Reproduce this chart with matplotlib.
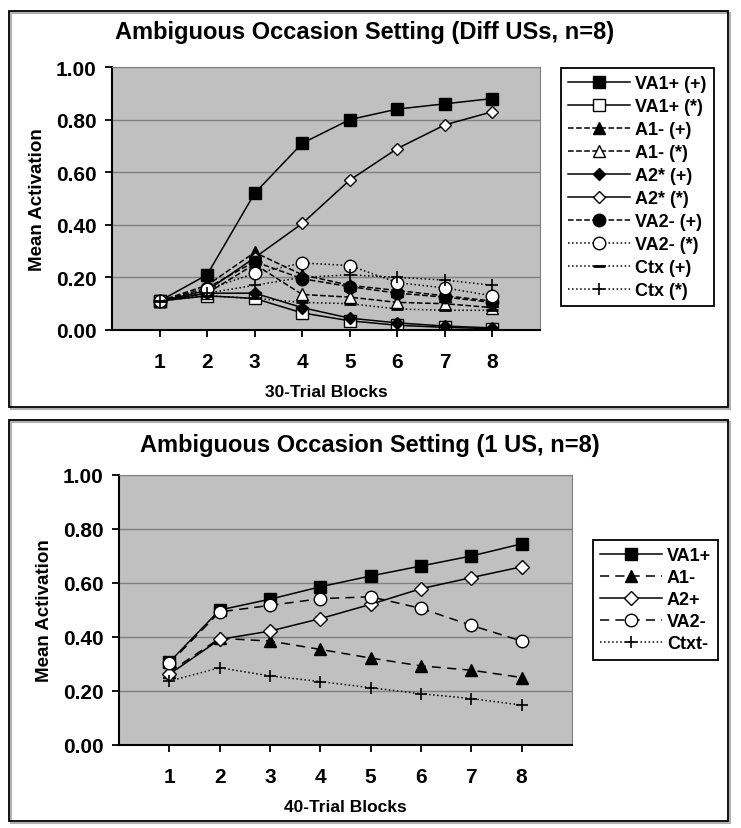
import matplotlib
matplotlib.use("Agg")
import matplotlib.pyplot as plt
from matplotlib.patches import Rectangle

plt.rcParams['font.family'] = ['Liberation Sans', 'DejaVu Sans']
plt.rcParams['font.weight'] = 'bold'

blocks = [1, 2, 3, 4, 5, 6, 7, 8]

# top panel: different USs
va1p_plus = [0.11, 0.21, 0.52, 0.71, 0.80, 0.84, 0.86, 0.88]
va1p_star = [0.11, 0.13, 0.12, 0.065, 0.035, 0.018, 0.010, 0.005]
a1m_plus = [0.11, 0.17, 0.295, 0.21, 0.17, 0.15, 0.13, 0.11]
a1m_star = [0.11, 0.14, 0.25, 0.135, 0.125, 0.105, 0.10, 0.085]
a2s_plus = [0.11, 0.14, 0.14, 0.085, 0.045, 0.027, 0.015, 0.008]
a2s_star = [0.11, 0.15, 0.275, 0.405, 0.57, 0.69, 0.78, 0.83]
va2m_plus = [0.11, 0.16, 0.26, 0.195, 0.165, 0.14, 0.125, 0.105]
va2m_star = [0.11, 0.155, 0.215, 0.255, 0.245, 0.18, 0.16, 0.13]
ctx_plus = [0.11, 0.13, 0.12, 0.105, 0.10, 0.08, 0.075, 0.075]
ctx_star = [0.11, 0.14, 0.17, 0.20, 0.21, 0.20, 0.19, 0.17]

# bottom panel: one US
va1p = [0.307, 0.50, 0.54, 0.586, 0.626, 0.663, 0.70, 0.745]
a1m = [0.27, 0.395, 0.385, 0.354, 0.322, 0.293, 0.277, 0.25]
a2p = [0.262, 0.391, 0.422, 0.468, 0.521, 0.579, 0.62, 0.66]
va2m = [0.302, 0.493, 0.517, 0.542, 0.549, 0.506, 0.443, 0.385]
ctxt = [0.237, 0.286, 0.256, 0.235, 0.212, 0.19, 0.172, 0.148]

W, H = 741, 829
fig = plt.figure(figsize=(W / 100, H / 100), dpi=100)


def box(x0, y0, x1, y1):
    # pixel coords (top-left origin) -> figure fraction
    return [x0 / W, 1 - y1 / H, (x1 - x0) / W, (y1 - y0) / H]


# outer frames with a faint shadow
for (x0, y0, x1, y1) in [(9, 12, 728, 408), (9, 421, 728, 822)]:
    b = box(x0, y0, x1, y1)
    fig.patches.append(Rectangle((b[0] + 2 / W, b[1] - 2 / H), b[2], b[3],
                                 transform=fig.transFigure, facecolor='none',
                                 edgecolor='#b0b0b0', lw=1.5, zorder=0))
    fig.patches.append(Rectangle((b[0], b[1]), b[2], b[3], transform=fig.transFigure,
                                 facecolor='none', edgecolor='black', lw=1.3, zorder=1))


def style_axes(ax, xlabel):
    ax.set_facecolor('#c0c0c0')
    ax.set_xlim(0, 9)
    ax.set_ylim(0, 1)
    ax.set_xticks(blocks)
    ax.set_yticks([0, 0.2, 0.4, 0.6, 0.8, 1.0])
    ax.set_yticklabels(['0.00', '0.20', '0.40', '0.60', '0.80', '1.00'])
    ax.grid(axis='y', color='#808080', lw=1)
    ax.set_axisbelow(True)
    for s in ['top', 'right']:
        ax.spines[s].set_color('#808080')
    for s in ['left', 'bottom']:
        ax.spines[s].set_linewidth(1.5)
    ax.tick_params(axis='both', direction='out', length=5, width=1.3, labelsize=15)
    ax.tick_params(axis='x', pad=11)
    ax.tick_params(axis='y', pad=6)
    for lab in ax.get_xticklabels() + ax.get_yticklabels():
        lab.set_fontweight('bold')
    ax.set_xlabel(xlabel, fontsize=12.5, fontweight='bold', labelpad=9)
    ax.set_ylabel('Mean Activation', fontsize=13.5, fontweight='bold', labelpad=7)


def style_legend(leg):
    leg.get_frame().set_linewidth(1.3)
    for t in leg.get_texts():
        t.set_fontweight('bold')


ax1 = fig.add_axes(box(112, 68, 540, 331))
style_axes(ax1, '30-Trial Blocks')
k = dict(color='black', lw=1.1, mec='black')
ax1.plot(blocks, va1p_plus, '-', marker='s', ms=9, mfc='black', label='VA1+ (+)', **k)
ax1.plot(blocks, va1p_star, '-', marker='s', ms=9, mfc='white', label='VA1+ (*)', **k)
ax1.plot(blocks, a1m_plus, '--', marker='^', ms=9, mfc='black', label='A1- (+)', **k)
ax1.plot(blocks, a1m_star, '--', marker='^', ms=9, mfc='white', label='A1- (*)', **k)
ax1.plot(blocks, a2s_plus, '-', marker='D', ms=6.5, mfc='black', label='A2* (+)', **k)
ax1.plot(blocks, a2s_star, '-', marker='D', ms=6.5, mfc='white', label='A2* (*)', **k)
ax1.plot(blocks, va2m_plus, '--', marker='o', ms=9, mfc='black', label='VA2- (+)', **k)
ax1.plot(blocks, va2m_star, ':', marker='o', ms=9, mfc='white', label='VA2- (*)', **k)
ax1.plot(blocks, ctx_plus, ':', marker='_', ms=9, mew=2, label='Ctx (+)', **k)
ax1.plot(blocks, ctx_star, ':', marker='+', ms=8, mew=1.2, label='Ctx (*)', **k)
fig.text(365 / W, 1 - 33 / H, 'Ambiguous Occasion Setting (Diff USs, n=8)',
         fontsize=17, fontweight='bold', ha='center', va='center')
leg1 = ax1.legend(loc='upper left', bbox_to_anchor=(561 / W, 1 - 69 / H),
                  bbox_transform=fig.transFigure, frameon=True, fancybox=False,
                  edgecolor='black', framealpha=1, fontsize=13, handlelength=3.4,
                  labelspacing=0.33, borderpad=0.4, handletextpad=0.3, borderaxespad=0)
style_legend(leg1)

ax2 = fig.add_axes(box(119, 476, 572, 746))
style_axes(ax2, '40-Trial Blocks')
ax2.plot(blocks, va1p, '-', marker='s', ms=9, mfc='black', label='VA1+', **k)
ax2.plot(blocks, a1m, '--', marker='^', ms=9, mfc='black', label='A1-', dashes=(6, 4), **k)
ax2.plot(blocks, a2p, '-', marker='D', ms=7, mfc='white', label='A2+', **k)
ax2.plot(blocks, va2m, '--', marker='o', ms=9, mfc='white', label='VA2-', dashes=(6, 4), **k)
ax2.plot(blocks, ctxt, ':', marker='+', ms=8, mew=1.2, label='Ctxt-', **k)
fig.text(370 / W, 1 - 446 / H, 'Ambiguous Occasion Setting (1 US, n=8)',
         fontsize=17, fontweight='bold', ha='center', va='center')
leg2 = ax2.legend(loc='upper left', bbox_to_anchor=(593 / W, 1 - 541 / H),
                  bbox_transform=fig.transFigure, frameon=True, fancybox=False,
                  edgecolor='black', framealpha=1, fontsize=13, handlelength=3.4,
                  labelspacing=0.28, borderpad=0.4, handletextpad=0.3, borderaxespad=0)
style_legend(leg2)

fig.savefig('out.png', dpi=100)
